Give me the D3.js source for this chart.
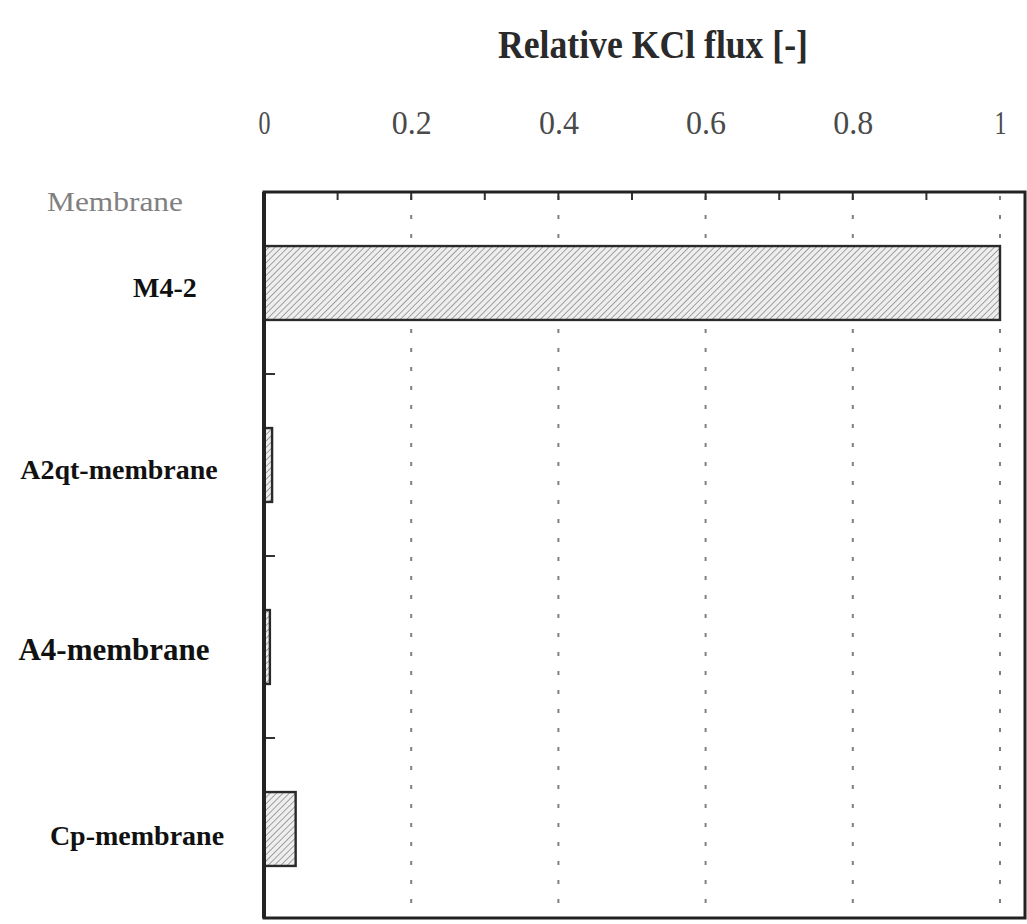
<!DOCTYPE html>
<html>
<head>
<meta charset="utf-8">
<script src="https://cdn.jsdelivr.net/npm/d3@7"></script>
<style>
  html, body { margin: 0; padding: 0; background: #fff; }
  svg { display: block; }
</style>
</head>
<body>
<svg id="chart" width="1027" height="924"></svg>
<script>
// Membranes and their KCl flux relative to M4-2
const categories = ["M4-2", "A2qt-membrane", "A4-membrane", "Cp-membrane"];
const relativeFlux = [1.0, 0.011, 0.008, 0.043];
const tickValues = [0, 0.2, 0.4, 0.6, 0.8, 1];
const tickLabels = ["0", "0.2", "0.4", "0.6", "0.8", "1"];
const minorTicks = [0.1, 0.2, 0.3, 0.4, 0.5, 0.6, 0.7, 0.8, 0.9];

const svg = d3.select("#chart");
const frame = { left: 264, top: 192, right: 1025, bottom: 918 };

const x = d3.scaleLinear().domain([0, 1]).range([frame.left, 1000]);
const y = d3.scaleBand()
  .domain(categories)
  .range([frame.top, frame.bottom + 2])
  .paddingInner(0.594)
  .paddingOuter(0.297);

// Diagonal hatch used to fill the bars
const defs = svg.append("defs");
const pat = defs.append("pattern")
  .attr("id", "hatch")
  .attr("patternUnits", "userSpaceOnUse")
  .attr("width", 4.5).attr("height", 4.5)
  .attr("patternTransform", "rotate(45)");
pat.append("rect").attr("width", 4.5).attr("height", 4.5).attr("fill", "#eeeeee");
pat.append("line")
  .attr("x1", 0).attr("y1", 0).attr("x2", 0).attr("y2", 4.5)
  .attr("stroke", "#8e8e8e").attr("stroke-width", 1.6);

const serif = "'Liberation Serif', 'Times New Roman', serif";

// Title
svg.append("text")
  .attr("x", 653).attr("y", 58)
  .attr("text-anchor", "middle")
  .attr("font-family", serif)
  .attr("font-weight", "bold")
  .attr("font-size", 40)
  .attr("fill", "#2a2a2a")
  .attr("textLength", 310)
  .attr("lengthAdjust", "spacingAndGlyphs")
  .text("Relative KCl flux [-]");

// Value axis labels along the top
const axisTop = d3.axisTop(x)
  .tickValues(tickValues)
  .tickFormat((d, i) => tickLabels[i])
  .tickSize(0)
  .tickPadding(0);
const gAxis = svg.append("g")
  .attr("transform", "translate(0,134)")
  .call(axisTop);
gAxis.select(".domain").remove();
gAxis.selectAll("text")
  .attr("font-family", serif)
  .attr("font-size", 34)
  .attr("fill", "#4a4a4a")
  .attr("dy", 0)
  .each(function () {
    const t = d3.select(this);
    const n = t.text().length;
    t.attr("textLength", n === 1 ? 12 : 40).attr("lengthAdjust", "spacingAndGlyphs");
  });

// Dotted vertical grid lines
svg.append("g")
  .selectAll("line")
  .data(tickValues.filter(v => v > 0))
  .join("line")
  .attr("x1", d => x(d)).attr("x2", d => x(d))
  .attr("y1", frame.top + 4).attr("y2", frame.bottom)
  .attr("stroke", "#808080")
  .attr("stroke-width", 2)
  .attr("stroke-dasharray", "4,15");

// Small ticks hanging from the top border
svg.append("g")
  .selectAll("line")
  .data(minorTicks)
  .join("line")
  .attr("x1", d => x(d)).attr("x2", d => x(d))
  .attr("y1", frame.top).attr("y2", frame.top + 8)
  .attr("stroke", "#333").attr("stroke-width", 2);

// Bars
svg.append("g")
  .selectAll("rect")
  .data(categories)
  .join("rect")
  .attr("x", x(0))
  .attr("y", d => y(d))
  .attr("width", (d, i) => x(relativeFlux[i]) - x(0))
  .attr("height", y.bandwidth())
  .attr("fill", "url(#hatch)")
  .attr("stroke", "#2a2a2a")
  .attr("stroke-width", 2.4);

// Category separators on the left axis
const step = y.step();
svg.append("g")
  .selectAll("line")
  .data(categories.slice(1))
  .join("line")
  .attr("x1", frame.left).attr("x2", frame.left + 11)
  .attr("y1", d => y(d) - step * y.paddingInner() / 2)
  .attr("y2", d => y(d) - step * y.paddingInner() / 2)
  .attr("stroke", "#333").attr("stroke-width", 2);

// Frame
svg.append("path")
  .attr("d", `M${frame.left},${frame.top}H${frame.right}V${frame.bottom}H${frame.left}Z`)
  .attr("fill", "none")
  .attr("stroke", "#222")
  .attr("stroke-width", 3);
svg.append("line")
  .attr("x1", frame.left).attr("x2", frame.left)
  .attr("y1", frame.top).attr("y2", frame.bottom)
  .attr("stroke", "#222")
  .attr("stroke-width", 4);

// Column header
svg.append("text")
  .attr("x", 47).attr("y", 211)
  .attr("font-family", serif)
  .attr("font-size", 28)
  .attr("fill", "#808080")
  .attr("textLength", 136)
  .attr("lengthAdjust", "spacingAndGlyphs")
  .text("Membrane");

// Membrane names
const labelX = [165, 119, 114, 137];
const labelSize = [28, 28, 31, 28];
const labelShift = [14, 14, 13, 16];
svg.append("g")
  .selectAll("text")
  .data(categories)
  .join("text")
  .attr("x", (d, i) => labelX[i])
  .attr("y", (d, i) => y(d) + y.bandwidth() / 2 + labelShift[i])
  .attr("text-anchor", "middle")
  .attr("font-family", serif)
  .attr("font-weight", "bold")
  .attr("font-size", (d, i) => labelSize[i])
  .attr("fill", "#111")
  .text(d => d);
</script>
</body>
</html>
